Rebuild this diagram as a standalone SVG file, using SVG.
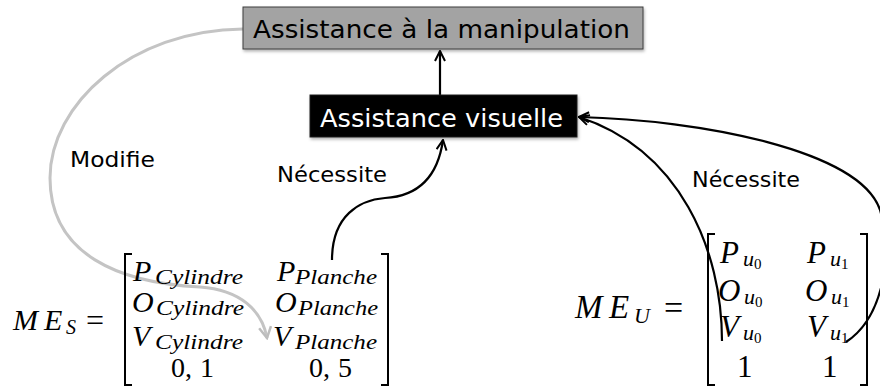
<svg xmlns="http://www.w3.org/2000/svg" width="880" height="387" viewBox="0 0 880 387">
<style>
.lbl{font-family:"DejaVu Sans","Liberation Sans",sans-serif;font-size:22px;fill:#000}
.box{font-family:"DejaVu Sans","Liberation Sans",sans-serif;font-size:25px}
.m{font-family:"Liberation Serif","DejaVu Serif",serif;font-style:italic;fill:#000}
.r{font-family:"Liberation Serif","DejaVu Serif",serif;font-style:normal;fill:#000}
.c{fill:none;stroke:#000;stroke-width:2.2}
.br{fill:none;stroke:#000;stroke-width:2}
</style>
<defs>
<marker id="ah" viewBox="0 0 12 12" refX="11" refY="6" markerWidth="12" markerHeight="12" orient="auto" markerUnits="userSpaceOnUse">
<path d="M1,1 L11,6 L1,11" fill="none" stroke="#000" stroke-width="2"/>
</marker>
<marker id="ahg" viewBox="0 0 14 14" refX="12" refY="7" markerWidth="14" markerHeight="14" orient="auto" markerUnits="userSpaceOnUse">
<path d="M1,1 L12,7 L1,13" fill="none" stroke="#bdbdbd" stroke-width="2.5"/>
</marker>
<filter id="sh" x="-5%" y="-20%" width="110%" height="150%">
<feDropShadow dx="1" dy="2" stdDeviation="1.5" flood-color="#000" flood-opacity="0.3"/>
</filter>
</defs>

<g id="connectors">
<path id="modifie" d="M243,29 C130,30 50,105 50,178 C50,255 120,283 200,287 C240,290 262,310 267,338" fill="none" stroke="#c4c4c4" stroke-width="3" marker-end="url(#ahg)"/>
<path d="M440,95 L440,51" class="c" marker-end="url(#ah)"/>
<path d="M332,260 C332,215 360,200 385,198 C420,196 438,175 443,140" class="c" marker-end="url(#ah)"/>
<path d="M722,341 C722,250 680,150 579,117" class="c" marker-end="url(#ah)"/>
<path d="M846,342 C880,320 895,260 880,210 C860,150 700,120 579,117" class="c" marker-end="url(#ah)"/>
<text class="lbl" x="70" y="167" textLength="85" lengthAdjust="spacingAndGlyphs">Modifie</text>
<text class="lbl" x="277" y="182" textLength="110" lengthAdjust="spacingAndGlyphs">Nécessite</text>
<text class="lbl" x="692" y="187" textLength="108" lengthAdjust="spacingAndGlyphs">Nécessite</text>
</g>

<g id="node-manipulation">
<rect x="243" y="7" width="400" height="42" fill="#a3a3a3" stroke="#3c3c3c" stroke-width="1" filter="url(#sh)"/>
<text class="box" x="253" y="38" fill="#000" textLength="377" lengthAdjust="spacingAndGlyphs">Assistance à la manipulation</text>
</g>

<g id="node-visuelle">
<rect x="310" y="95" width="267" height="42" fill="#000" stroke="#222" stroke-width="1" filter="url(#sh)"/>
<text class="box" x="320" y="127" fill="#fff" textLength="243" lengthAdjust="spacingAndGlyphs">Assistance visuelle</text>
</g>

<g id="matrix-S">
<text class="m" font-size="30" x="13" y="330">M<tspan x="44">E</tspan><tspan x="66" dy="4" font-size="20">S</tspan></text>
<text class="r" font-size="32" x="86" y="331">=</text>
<path class="br" d="M132,254 L125,254 L125,385 L132,385"/>
<path class="br" d="M381,254 L388,254 L388,385 L381,385"/>
<text class="m" font-size="30" x="133" y="281">P<tspan x="155" dy="3" font-size="20" textLength="88" lengthAdjust="spacingAndGlyphs">Cylindre</tspan></text>
<text class="m" font-size="30" x="132" y="312">O<tspan x="156" dy="3" font-size="20" textLength="88" lengthAdjust="spacingAndGlyphs">Cylindre</tspan></text>
<text class="m" font-size="30" x="132" y="346">V<tspan x="155" dy="3" font-size="20" textLength="88" lengthAdjust="spacingAndGlyphs">Cylindre</tspan></text>
<text class="r" font-size="28" x="171" y="377">0,<tspan dx="8">1</tspan></text>
<text class="m" font-size="30" x="277" y="281">P<tspan x="295" dy="3" font-size="20" textLength="82" lengthAdjust="spacingAndGlyphs">Planche</tspan></text>
<text class="m" font-size="30" x="275" y="312">O<tspan x="298" dy="3" font-size="20" textLength="80" lengthAdjust="spacingAndGlyphs">Planche</tspan></text>
<text class="m" font-size="30" x="273" y="346">V<tspan x="295" dy="3" font-size="20" textLength="82" lengthAdjust="spacingAndGlyphs">Planche</tspan></text>
<text class="r" font-size="28" x="309" y="377">0,<tspan dx="8">5</tspan></text>
</g>

<g id="matrix-U">
<text class="m" font-size="33" x="575" y="318">M<tspan x="609">E</tspan><tspan x="634" dy="5" font-size="22">U</tspan></text>
<text class="r" font-size="34" x="664" y="319">=</text>
<path class="br" d="M715,234 L708,234 L708,385 L715,385"/>
<path class="br" d="M860,234 L867,234 L867,385 L860,385"/>
<text class="m" font-size="31" x="720" y="263">P<tspan x="743" dy="3" font-size="22">u</tspan><tspan dy="3" font-size="15" class="r">0</tspan></text>
<text class="m" font-size="31" x="807" y="263">P<tspan x="830" dy="3" font-size="22">u</tspan><tspan dy="3" font-size="15" class="r">1</tspan></text>
<text class="m" font-size="31" x="718" y="301">O<tspan x="744" dy="3" font-size="22">u</tspan><tspan dy="3" font-size="15" class="r">0</tspan></text>
<text class="m" font-size="31" x="805" y="301">O<tspan x="831" dy="3" font-size="22">u</tspan><tspan dy="3" font-size="15" class="r">1</tspan></text>
<text class="m" font-size="31" x="720" y="337">V<tspan x="743" dy="3" font-size="22">u</tspan><tspan dy="3" font-size="15" class="r">0</tspan></text>
<text class="m" font-size="31" x="807" y="337">V<tspan x="830" dy="3" font-size="22">u</tspan><tspan dy="3" font-size="15" class="r">1</tspan></text>
<text class="r" font-size="31" x="737" y="377">1</text>
<text class="r" font-size="31" x="822" y="377">1</text>
</g>
</svg>
